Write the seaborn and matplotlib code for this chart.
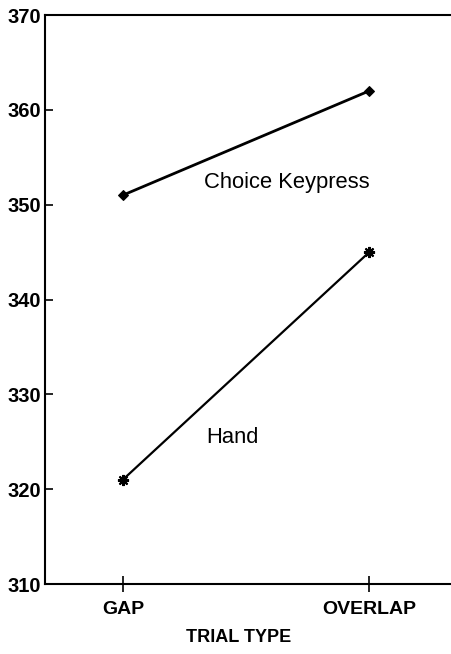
import matplotlib
matplotlib.use("Agg")
import matplotlib.pyplot as plt
import seaborn as sns
import pandas as pd

trial_types = ["GAP", "OVERLAP"]
choice_keypress = [351, 362]
hand = [321, 345]
y_ticks = [310, 320, 330, 340, 350, 360, 370]

x_pos = list(range(len(trial_types)))
df_ck = pd.DataFrame({"trial": x_pos, "rt": choice_keypress})
df_h = pd.DataFrame({"trial": x_pos, "rt": hand})

sns.set_style("white")
plt.rcParams['font.family'] = ['Liberation Sans', 'DejaVu Sans']

fig = plt.figure(figsize=(4.51, 6.54), dpi=100)
ax = fig.add_axes([45/451, 1-584/654, 1-45/451 + 0.01, (584-15)/654])

sns.lineplot(data=df_ck, x="trial", y="rt", color="black", marker="D",
             linewidth=2.0, markersize=5, markeredgecolor="black", ax=ax)
sns.lineplot(data=df_h, x="trial", y="rt", color="black", marker=(8, 2, 0),
             linewidth=1.6, markersize=8, markeredgewidth=1.5, markeredgecolor="black", ax=ax)

ax.set_xlim(-0.316, 1.35)
ax.set_ylim(310, 370)
ax.set_xticks(x_pos)
ax.set_xticklabels(trial_types, fontsize=14, fontweight='bold', color='black')
ax.set_yticks(y_ticks)
ax.set_yticklabels([str(v) for v in y_ticks], fontsize=14.5, fontweight='bold', color='black')
ax.tick_params(axis='x', bottom=True, direction='inout', length=12, width=1.2, pad=6, colors='black')
ax.tick_params(axis='y', left=True, direction='in', length=6, width=1.2, pad=3, colors='black')
ax.set_xlabel("")
ax.set_ylabel("")
for s in ["left", "bottom", "top"]:
    ax.spines[s].set_visible(True)
    ax.spines[s].set_color("black")
    ax.spines[s].set_linewidth(1.5)
ax.spines["right"].set_visible(False)

ax.text(0.33, 352.3, "Choice Keypress", fontsize=15.8, va='center', ha='left', color='black')
ax.text(0.34, 325.5, "Hand", fontsize=15.8, va='center', ha='left', color='black')

fig.text(239/451, 1-637/654, "TRIAL TYPE", fontsize=13, fontweight='bold', ha='center', va='center', color='black')

fig.savefig("out.png", dpi=100)
